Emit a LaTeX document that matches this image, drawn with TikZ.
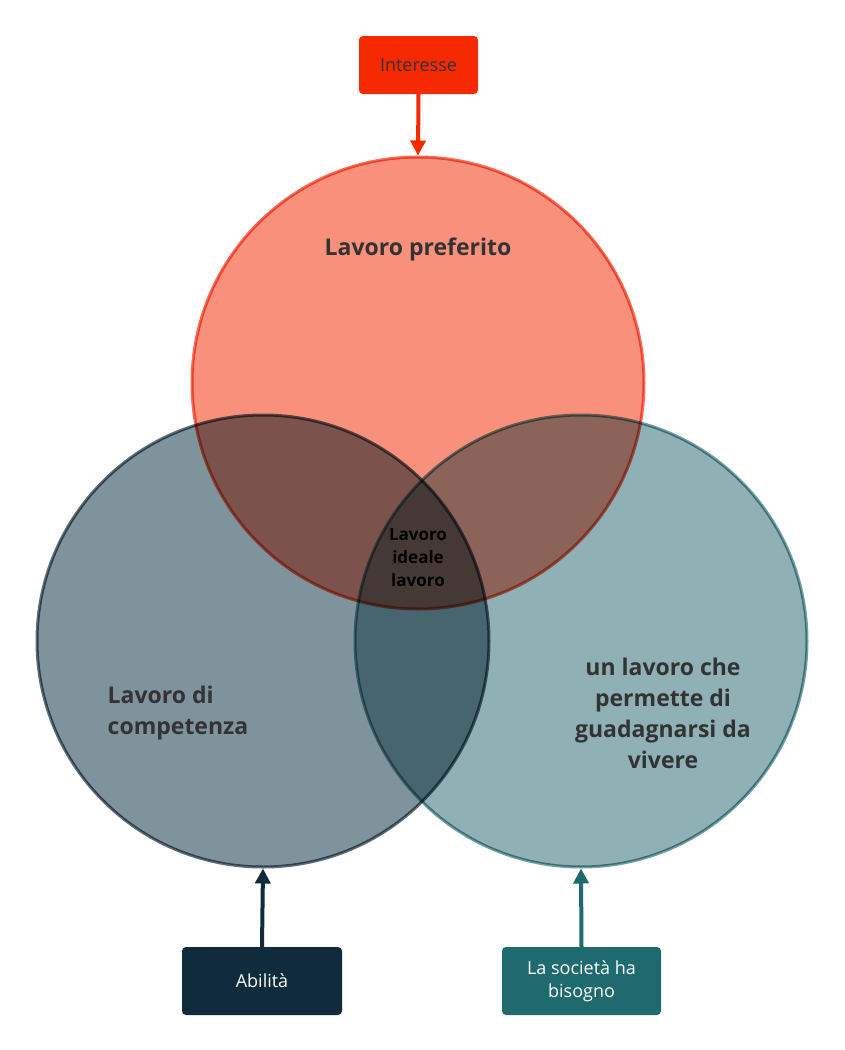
\documentclass[tikz,border=0pt]{standalone}
\usepackage{fontspec}
\setmainfont{Open Sans}
\usetikzlibrary{arrows.meta}
\definecolor{topc}{RGB}{249,144,124}
\definecolor{topb}{RGB}{246,110,88}
\definecolor{leftc}{RGB}{127,147,157}
\definecolor{leftb}{RGB}{95,112,124}
\definecolor{rightc}{RGB}{143,176,181}
\definecolor{rightb}{RGB}{110,160,165}
\definecolor{intc}{RGB}{245,42,0}
\definecolor{abc}{RGB}{15,43,60}
\definecolor{soc}{RGB}{31,106,110}
\definecolor{txt}{RGB}{51,51,51}
\begin{document}
\begin{tikzpicture}[x=1pt,y=-1pt,
 venn/.style={circle,minimum size=452pt,inner sep=0pt,line width=3pt},
 box/.style={rounded corners=4pt,minimum width=#1,minimum height=68pt,inner sep=2pt,align=center,font=\fontsize{18}{23}\selectfont},
 arr/.style={line width=4pt,-{Triangle[length=15pt,width=15pt]}},
 lab/.style={font=\fontsize{23}{31}\selectfont\bfseries,text=txt,align=center}]
\useasboundingbox (0,0) rectangle (844,1050);
\fill[white] (0,0) rectangle (844,1050);
\begin{scope}[blend group=multiply]
\node[venn,fill=topc,draw=topb] (T) at (418,383) {};
\node[venn,fill=leftc,draw=leftb] (L) at (263,641) {};
\node[venn,fill=rightc,draw=rightb] (R) at (581,641) {};
\end{scope}
\node[lab] (tl) at (418,249) {Lavoro preferito};
\node[lab,align=left] (ll) at (178,713) {Lavoro di\\competenza};
\node[lab] (rl) at (663,713) {un lavoro che\\permette di\\guadagnarsi da\\vivere};
\node[font=\fontsize{17}{23}\selectfont\bfseries,align=center] (c) at (418,558) {Lavoro\\ideale\\lavoro};
\node[box=119pt,minimum height=58pt,fill=intc,text=txt] (I) at (418.5,65) {Interesse};
\node[box=160pt,fill=abc,text=white] (A) at (262,981) {Abilità};
\node[box=159pt,fill=soc,text=white] (S) at (581.5,981) {La società ha\\bisogno};
\draw[arr,intc] (I.south) -- (T.north);
\draw[arr,abc] (A.north) -- (L.south);
\draw[arr,soc] (S.north) -- (R.south);
\end{tikzpicture}
\end{document}
